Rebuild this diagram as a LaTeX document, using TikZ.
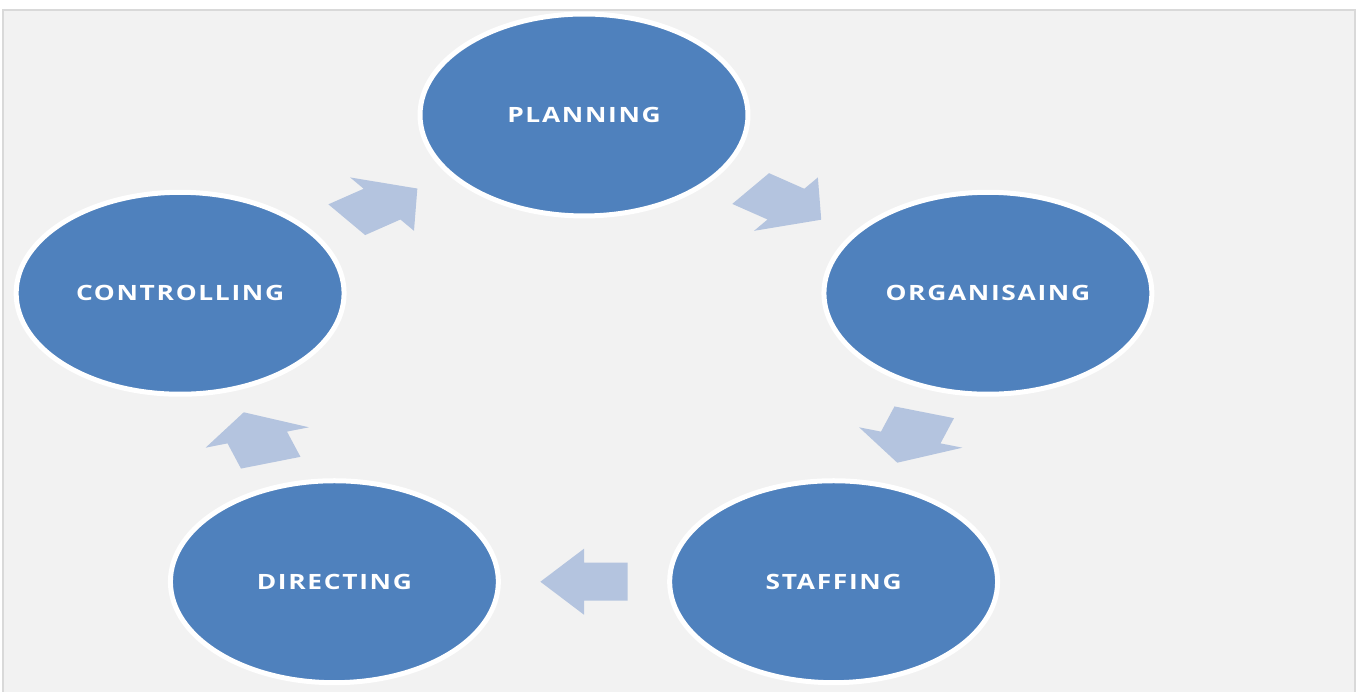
\documentclass[tikz,border=0pt]{standalone}
\usepackage{fontspec}
\setmainfont{Open Sans}
\newfontfamily\stagefont[LetterSpace=8, FakeStretch=1.25]{Open Sans}
\usetikzlibrary{calc,shapes.geometric}
\definecolor{stagefill}{HTML}{4F81BD}
\definecolor{arrowfill}{HTML}{B4C4DF}
\definecolor{panel}{HTML}{F2F2F2}
\definecolor{frame}{HTML}{D9D9D9}
\tikzset{
  stage/.style={ellipse, fill=stagefill, draw=white, line width=0.1cm,
    minimum width=6.56cm, minimum height=4.04cm, inner sep=0pt,
    text=white, font=\stagefont\bfseries\large},
  flow/.style={fill=arrowfill},
}
\def\sx{1.646}

\begin{document}
\begin{tikzpicture}[x=0.02cm, y=0.02cm]
  \useasboundingbox (0,0) rectangle (1361,692);
  % panel
  \fill[white] (0,0) rectangle (1361,692);
  \filldraw[fill=panel, draw=frame, line width=0.6pt] (3,-10) rectangle (1355,682);
  % five stages on a stretched circle
  \begin{scope}[shift={(584,319)}, xscale=\sx]
    \node[stage] (plan)  at (90:258)   {PLANNING};
    \node[stage] (org)   at (18:258)   {ORGANISAING};
    \node[stage] (staff) at (-54:258)  {STAFFING};
    \node[stage] (dir)   at (-126:258) {DIRECTING};
    \node[stage] (ctrl)  at (162:258)  {CONTROLLING};
  \end{scope}
  % block arrows halfway between stages
  \foreach \from/\to/\dir in {ctrl/plan/36, plan/org/-36, org/staff/-108, staff/dir/180, dir/ctrl/108}
    \fill[flow, shift={($(\from)!0.5!(\to)$)}, xscale=\sx, rotate=\dir]
      (-26.5,-19) -- (0,-19) -- (0,-33) -- (26.5,0) -- (0,33) -- (0,19) -- (-26.5,19) -- cycle;
\end{tikzpicture}
\end{document}
